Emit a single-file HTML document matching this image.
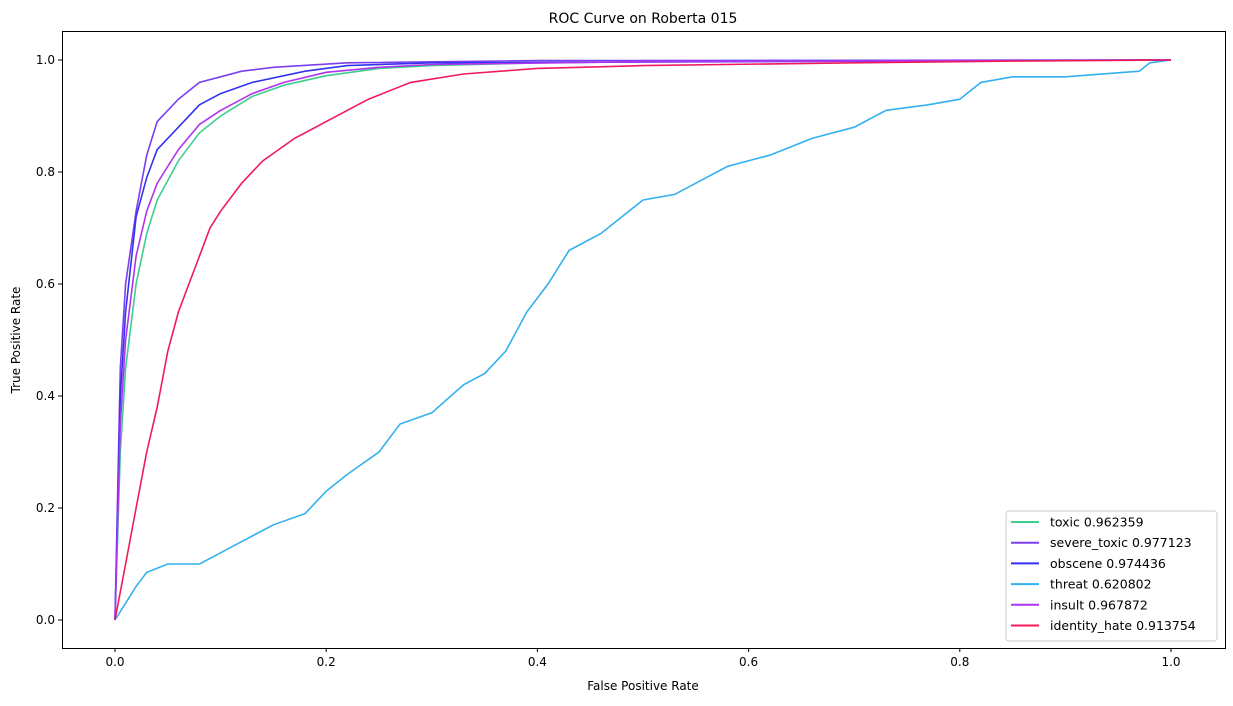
<!DOCTYPE html>
<html><head><meta charset="utf-8"><style>
body{margin:0;background:#fff;font-family:"Liberation Sans","DejaVu Sans",sans-serif}
svg text{font-family:"DejaVu Sans","Liberation Sans",sans-serif;fill:#000}
</style></head><body>
<svg id="chart" width="1233" height="701" xmlns="http://www.w3.org/2000/svg">
<rect width="1233" height="701" fill="#fff"/>
<text x="643" y="23" font-size="14" text-anchor="middle">ROC Curve on Roberta 015</text>
<text x="643" y="690" font-size="12" text-anchor="middle">False Positive Rate</text>
<text x="20" y="340" font-size="12" text-anchor="middle" transform="rotate(-90 20 340)">True Positive Rate</text>
<g id="curves"></g>
<g id="axes"></g>
<rect x="62.5" y="31.5" width="1163" height="617" fill="none" stroke="#000" stroke-width="1"/>
<g id="legend"></g>
</svg>
<script>
const seriesNames=["toxic","severe_toxic","obscene","threat","insult","identity_hate"];
const aucLabels=["0.962359","0.977123","0.974436","0.620802","0.967872","0.913754"];
const seriesColors=["#3ccf8e","#7b3ff2","#3333ee","#33b0f0","#b033f0","#f01a5a"];
const xTicks=[0,0.2,0.4,0.6,0.8,1.0];
const yTicks=[0,0.2,0.4,0.6,0.8,1.0];
const toxicFpr=[0,0.005,0.01,0.02,0.03,0.04,0.06,0.08,0.1,0.13,0.16,0.2,0.25,0.3,0.4,0.6,1];
const toxicTpr=[0,0.3,0.45,0.6,0.69,0.75,0.82,0.87,0.9,0.935,0.955,0.972,0.985,0.99,0.995,0.999,1];
const severeFpr=[0,0.005,0.01,0.02,0.03,0.04,0.05,0.06,0.08,0.1,0.12,0.15,0.22,0.4,1];
const severeTpr=[0,0.45,0.6,0.73,0.83,0.89,0.91,0.93,0.96,0.97,0.98,0.987,0.995,0.999,1];
const obsceneFpr=[0,0.005,0.01,0.02,0.03,0.04,0.06,0.08,0.1,0.13,0.18,0.22,0.3,1];
const obsceneTpr=[0,0.4,0.55,0.72,0.79,0.84,0.88,0.92,0.94,0.96,0.98,0.99,0.995,1];
const threatFpr=[0,0.01,0.02,0.03,0.05,0.08,0.1,0.12,0.15,0.18,0.2,0.22,0.25,0.27,0.3,0.33,0.35,0.37,0.39,0.41,0.43,0.46,0.48,0.5,0.53,0.56,0.58,0.62,0.66,0.7,0.73,0.77,0.8,0.82,0.85,0.9,0.97,0.98,1];
const threatTpr=[0,0.03,0.06,0.085,0.1,0.1,0.12,0.14,0.17,0.19,0.23,0.26,0.3,0.35,0.37,0.42,0.44,0.48,0.55,0.6,0.66,0.69,0.72,0.75,0.76,0.79,0.81,0.83,0.86,0.88,0.91,0.92,0.93,0.96,0.97,0.97,0.98,0.995,1];
const insultFpr=[0,0.005,0.01,0.02,0.03,0.04,0.06,0.08,0.1,0.13,0.16,0.2,0.25,0.3,0.5,1];
const insultTpr=[0,0.35,0.5,0.65,0.73,0.78,0.84,0.885,0.91,0.94,0.96,0.978,0.987,0.992,0.997,1];
const hateFpr=[0,0.01,0.02,0.03,0.04,0.05,0.06,0.07,0.08,0.09,0.1,0.12,0.14,0.17,0.2,0.24,0.28,0.33,0.4,0.5,0.7,0.85,1];
const hateTpr=[0,0.1,0.2,0.3,0.38,0.48,0.55,0.6,0.65,0.7,0.73,0.78,0.82,0.86,0.89,0.93,0.96,0.975,0.985,0.99,0.995,0.998,1];
const NS="http://www.w3.org/2000/svg";
const xs=v=>115+v*1056, ys=v=>620-v*560;
const curves=document.getElementById('curves');
const fprs=[toxicFpr,severeFpr,obsceneFpr,threatFpr,insultFpr,hateFpr];
const tprs=[toxicTpr,severeTpr,obsceneTpr,threatTpr,insultTpr,hateTpr];
for(let i=0;i<6;i++){
  const p=document.createElementNS(NS,'polyline');
  const pts=fprs[i].map((f,j)=>xs(f).toFixed(1)+','+ys(tprs[i][j]).toFixed(1)).join(' ');
  p.setAttribute('points',pts);p.setAttribute('fill','none');p.setAttribute('stroke',seriesColors[i]);p.setAttribute('stroke-width','1.6');
  
  
  curves.appendChild(p);
}
const axes=document.getElementById('axes');
xTicks.forEach(t=>{
  const l=document.createElementNS(NS,'line');l.setAttribute('x1',xs(t));l.setAttribute('x2',xs(t));l.setAttribute('y1',648);l.setAttribute('y2',652);l.setAttribute('stroke','#000');
  
  
  axes.appendChild(l);
  const tx=document.createElementNS(NS,'text');tx.setAttribute('x',xs(t));tx.setAttribute('y',666);tx.setAttribute('font-size','12');tx.setAttribute('text-anchor','middle');tx.textContent=t.toFixed(1);
  
  
  axes.appendChild(tx);
});
yTicks.forEach(t=>{
  const l=document.createElementNS(NS,'line');l.setAttribute('x1',58);l.setAttribute('x2',62);l.setAttribute('y1',ys(t));l.setAttribute('y2',ys(t));l.setAttribute('stroke','#000');
  
  
  axes.appendChild(l);
  const tx=document.createElementNS(NS,'text');tx.setAttribute('x',55);tx.setAttribute('y',ys(t)+4);tx.setAttribute('font-size','12');tx.setAttribute('text-anchor','end');tx.textContent=t.toFixed(1);
  
  
  axes.appendChild(tx);
});
const lg=document.getElementById('legend');
const box=document.createElementNS(NS,'rect');
box.setAttribute('x',1006);box.setAttribute('y',511);box.setAttribute('width',211);box.setAttribute('height',130);box.setAttribute('rx',3);box.setAttribute('fill','#fff');box.setAttribute('fill-opacity','0.8');box.setAttribute('stroke','#ccc');


lg.appendChild(box);
for(let i=0;i<6;i++){
  const y=522+i*20.7;
  const l=document.createElementNS(NS,'line');l.setAttribute('x1',1011);l.setAttribute('x2',1039);l.setAttribute('y1',y);l.setAttribute('y2',y);l.setAttribute('stroke',seriesColors[i]);l.setAttribute('stroke-width','2');
  
  
  lg.appendChild(l);
  const tx=document.createElementNS(NS,'text');tx.setAttribute('x',1050);tx.setAttribute('y',y+4.5);tx.setAttribute('font-size','12.5');tx.textContent=seriesNames[i]+' '+aucLabels[i];
  
  
  lg.appendChild(tx);
}
</script>
</body></html>
